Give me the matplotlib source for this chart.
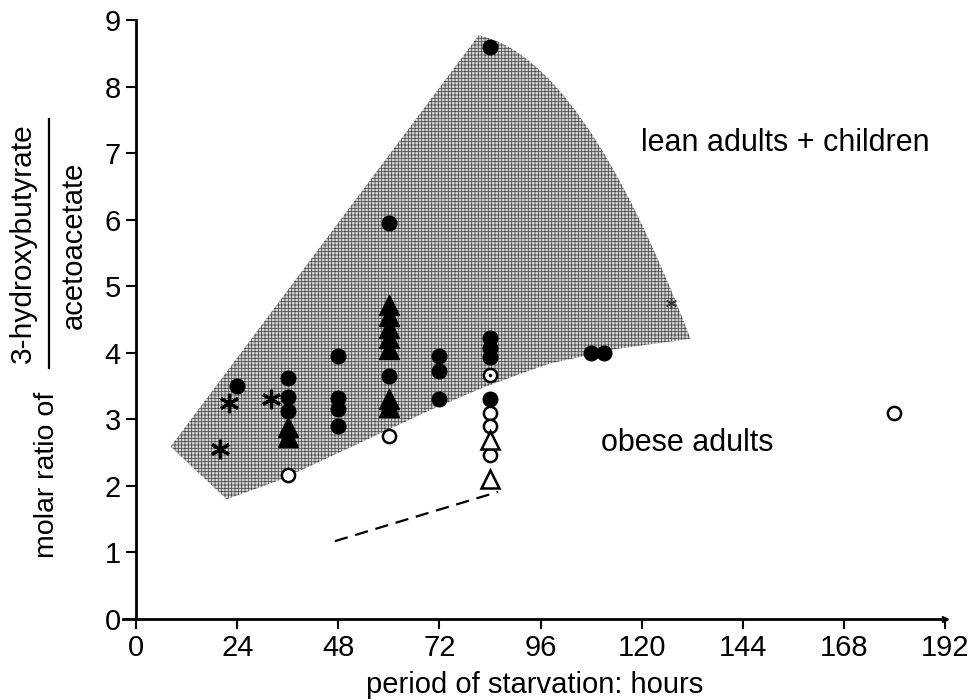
"""
Ketone body ratio during starvation: lean vs obese subjects.
"""

import matplotlib.pyplot as plt
from matplotlib.lines import Line2D
from matplotlib.patches import PathPatch
from matplotlib.path import Path

# Shaded region (lean adults + children)
# lower edge, from the left tip to the lower-right corner
lower_x = [8.2, 21.5, 34.2, 46.1, 58.0, 69.8, 81.7, 93.6, 98.3, 114.2, 131.6]
lower_y = [2.59, 1.80, 2.09, 2.44, 2.79, 3.14, 3.46, 3.74, 3.84, 4.06, 4.21]
# curved right edge: control point, then apex
arc_ctrl = (106.0, 8.45)
apex = (81.3, 8.77)

# Filled circles
fc_x = [24, 36, 36, 36, 48, 48, 48, 48, 60, 60, 72, 72, 72, 84, 84, 84, 84, 84, 108, 111]
fc_y = [3.5, 3.62, 3.33, 3.12, 3.95, 3.32, 3.15, 2.9, 5.95, 3.65, 3.95, 3.72, 3.3,
        8.6, 4.22, 4.07, 3.93, 3.3, 3.99, 3.99]

# Filled triangles
ft_x = [36, 36, 60, 60, 60, 60, 60, 60, 60]
ft_y = [2.88, 2.74, 4.72, 4.55, 4.38, 4.22, 4.06, 3.3, 3.18]

# Open circles
oc_x = [36, 60, 84, 84, 84, 84, 180]
oc_y = [2.17, 2.75, 3.66, 3.1, 2.9, 2.46, 3.1]

# Open triangles
ot_x = [84, 84]
ot_y = [2.69, 2.1]

# Asterisks
ast_x = [20, 22, 32]
ast_y = [2.55, 3.25, 3.3]

# Dashed line
dash_x = [47.2, 85.9]
dash_y = [1.17, 1.91]

x_ticks = [0, 24, 48, 72, 96, 120, 144, 168, 192]
y_ticks = [0, 1, 2, 3, 4, 5, 6, 7, 8, 9]

plt.rcParams['font.family'] = ['Liberation Sans', 'DejaVu Sans']
plt.rcParams['font.size'] = 21
plt.rcParams['hatch.linewidth'] = 0.55

W, H = 972, 700


def px(x, y):
    """Figure pixel (from top-left) to figure fraction."""
    return x / W, 1 - y / H


def region_patch():
    verts = list(zip(lower_x, lower_y)) + [arc_ctrl, apex, (lower_x[0], lower_y[0])]
    codes = ([Path.MOVETO] + [Path.LINETO] * (len(lower_x) - 1)
             + [Path.CURVE3, Path.CURVE3, Path.LINETO])
    return PathPatch(Path(verts, codes), facecolor='#d2d2d2', edgecolor='#4a4a4a',
                     hatch='+++++', linewidth=0, zorder=1)


def main():
    fig = plt.figure(figsize=(9.72, 7), dpi=100)
    ax = fig.add_axes([0.127, 0.1157, 0.8452, 0.8557])

    ax.add_patch(region_patch())

    ax.plot(dash_x, dash_y, color='black', lw=1.6, dashes=(6, 3.5), zorder=2)

    ax.plot(fc_x, fc_y, 'o', color='black', ms=10.5, ls='none', zorder=3)
    ax.plot(ft_x, ft_y, '^', color='black', ms=14, ls='none', zorder=3)
    ax.plot(oc_x, oc_y, 'o', mfc='white', mec='black', mew=1.8, ms=9.5, ls='none', zorder=4)
    ax.plot(oc_x[2], oc_y[2], '.', color='black', ms=3, zorder=5)
    ax.plot(ot_x, ot_y, '^', mfc='white', mec='black', mew=1.8, ms=13, ls='none', zorder=5)
    ax.plot(ast_x, ast_y, marker=(6, 2, 0), color='black', mew=2.3, ms=14, ls='none', zorder=3)
    ax.plot(127, 4.75, marker=(6, 2, 0), color='#333333', mew=1, ms=8, ls='none', zorder=3)

    ax.text(119.9, 7.15, 'lean adults + children', ha='left', va='center', fontsize=22)
    ax.text(110.4, 2.64, 'obese adults', ha='left', va='center', fontsize=22)

    ax.set_xlim(-3, 192)
    ax.set_ylim(0, 9)
    ax.spines['left'].set_position(('data', 0))
    ax.spines['right'].set_visible(False)
    ax.spines['top'].set_visible(False)
    ax.spines['left'].set_linewidth(2)
    ax.spines['bottom'].set_linewidth(2)
    ax.set_xticks(x_ticks)
    ax.set_yticks(y_ticks)
    ax.tick_params(direction='out', length=7, width=1.5, labelsize=21, pad=4)
    ax.plot(1, 0, '>', color='black', ms=5, transform=ax.get_yaxis_transform(), clip_on=False)

    ax.set_xlabel('period of starvation: hours', fontsize=21, labelpad=6)

    # y label: "molar ratio of" + fraction
    fig.text(*px(47.5, 475), 'molar ratio of', rotation=90, ha='center', va='center', fontsize=20.5)
    fig.text(*px(22.5, 243), '3-hydroxybutyrate', rotation=90, ha='center', va='center', fontsize=21.5)
    fig.text(*px(73.5, 245), 'acetoacetate', rotation=90, ha='center', va='center', fontsize=21)
    x0, y0 = px(48.5, 119)
    x1, y1 = px(48.5, 368)
    fig.add_artist(Line2D([x0, x1], [y0, y1], color='black', lw=1.6))

    fig.savefig('out.png', dpi=100, facecolor='white')
    plt.close(fig)


if __name__ == '__main__':
    main()
